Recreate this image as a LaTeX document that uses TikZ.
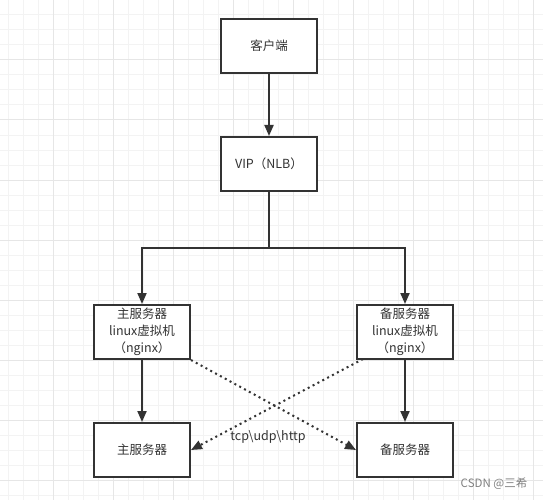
\documentclass[tikz,border=0pt]{standalone}
\usepackage{fontspec}
\setmainfont{Noto Sans CJK SC}
\usetikzlibrary{arrows.meta}
\definecolor{gridminor}{HTML}{F3F3F3}
\definecolor{gridmajor}{HTML}{E6E6E6}
\definecolor{ink}{HTML}{333333}
\tikzset{
  box/.style={draw=ink, line width=2pt, minimum width=96pt, minimum height=54pt, inner sep=2pt, align=center, text=ink, font=\fontsize{12.5pt}{17pt}\selectfont},
  conn/.style={draw=ink, line width=2pt, -{Triangle[length=11pt,width=9pt]}},
  plain/.style={draw=ink, line width=2pt},
  dotconn/.style={draw=ink, line width=2pt, dash pattern=on 2pt off 3.5pt, -{Triangle[length=11pt,width=9pt]}},
  lbl/.style={text=ink, font=\fontsize{12.5pt}{15pt}\selectfont, inner sep=1pt},
}
\begin{document}
\begin{tikzpicture}[x=1pt,y=-1pt]
\useasboundingbox (0,0) rectangle (543,500);
\fill[white] (0,0) rectangle (543,500);
% grid
\foreach \gx in {8,23,...,543} \draw[gridminor, line width=1pt] (\gx,0) -- (\gx,500);
\foreach \gy in {0,15,...,500} \draw[gridminor, line width=1pt] (0,\gy) -- (543,\gy);
\foreach \gx in {53,113,...,543} \draw[gridmajor, line width=1pt] (\gx,0) -- (\gx,500);
\foreach \gy in {0,60,...,500} \draw[gridmajor, line width=1pt] (0,\gy) -- (543,\gy);
% nodes
\node[box, fill=white] (client) at (269,46) {客户端};
\node[box, fill=white] (vip) at (269,164) {VIP（NLB）};
\node[box, fill=white] (lm) at (142,332) {主服务器\\linux虚拟机\\（nginx）};
\node[box, fill=white] (rm) at (405,332) {备服务器\\linux虚拟机\\（nginx）};
\node[box, fill=white] (bl) at (142,450) {主服务器};
\node[box, fill=white] (br) at (405,450) {备服务器};
\coordinate (j) at (269,248);
\coordinate (rs) at (363,359);
% connectors
\draw[conn] (client) -- (vip);
\draw[plain] (vip) -- (j);
\draw[conn] (j) -| (lm.north);
\draw[conn] (j) -| (rm.north);
\draw[conn] (lm) -- (bl);
\draw[conn] (rm) -- (br);
\draw[dotconn] (lm.south east) -- (br.west);
\draw[dotconn] (rs) -- (bl.east);
\node[lbl] (proto) at (268,437) {tcp\textbackslash udp\textbackslash http};
\node[text=gray, font=\fontsize{11.5pt}{13pt}\selectfont, inner sep=0pt] (wm) at (494,484) {CSDN @三希};
\end{tikzpicture}
\end{document}
